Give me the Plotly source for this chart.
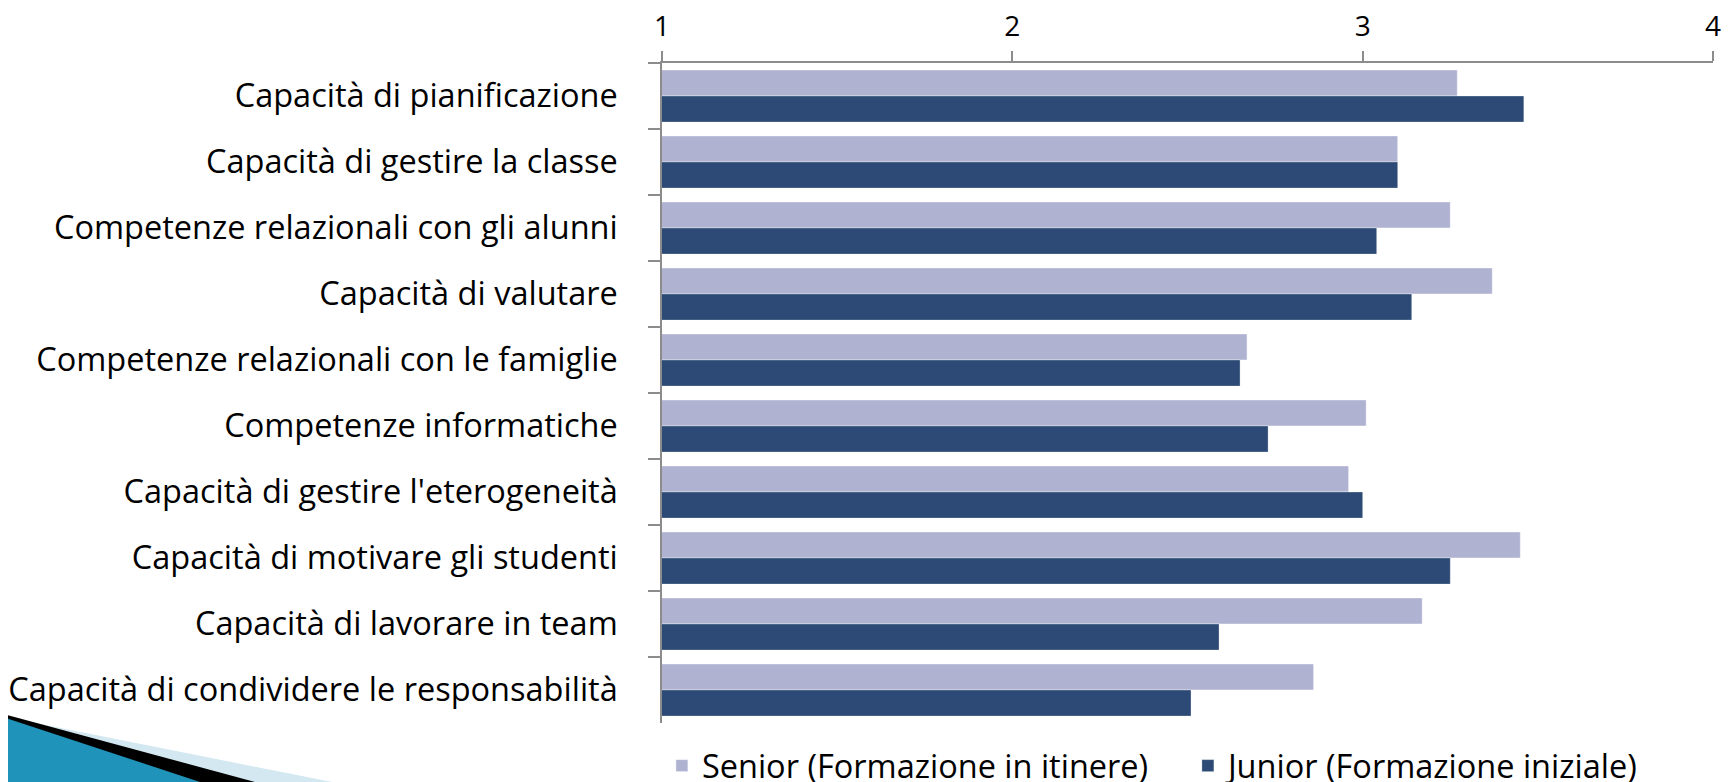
import plotly.graph_objects as go

categories = [
    "Capacità di pianificazione",
    "Capacità di gestire la classe",
    "Competenze relazionali con gli alunni",
    "Capacità di valutare",
    "Competenze relazionali con le famiglie",
    "Competenze informatiche",
    "Capacità di gestire l'eterogeneità",
    "Capacità di motivare gli studenti",
    "Capacità di lavorare in team",
    "Capacità di condividere le responsabilità",
]
senior = [3.27, 3.10, 3.25, 3.37, 2.67, 3.01, 2.96, 3.45, 3.17, 2.86]
junior = [3.46, 3.10, 3.04, 3.14, 2.65, 2.73, 3.00, 3.25, 2.59, 2.51]
senior_name = "Senior (Formazione in itinere)"
junior_name = "Junior (Formazione iniziale)"
x_ticks = [1, 2, 3, 4]

# the page body has an 8px margin, so the figure is offset inside the window
OFF = 8
WIN_W, WIN_H = 1733, 782
W, H = WIN_W - OFF, WIN_H - OFF
# plot frame in window pixels
PL, PT, PR, PB = 662, 63, 1713, 723
L, T = PL - OFF, PT - OFF
R, B = W - (PR - OFF), H - (PB - OFF)
pw, ph = W - L - R, H - T - B

def px(xw):
    return (xw - OFF - L) / pw

def py(yw):
    return (H - B - (yw - OFF)) / ph

FONT = "Open Sans"
FS = 32.5
fig = go.Figure()
fig.add_trace(go.Bar(y=categories, x=senior, name=senior_name, orientation="h",
                     marker=dict(color="#AFB2D1", line=dict(color="rgba(255,255,255,0.45)", width=1))))
fig.add_trace(go.Bar(y=categories, x=junior, name=junior_name, orientation="h",
                     marker=dict(color="#2C4A75", line=dict(color="rgba(255,255,255,0.3)", width=1))))

# decorative wedge in bottom-left corner (window pixel coordinates)
def poly(pts):
    return "M " + " L ".join(f"{px(a):.5f},{py(b):.5f}" for a, b in pts) + " Z"

shapes = [
    dict(type="path", xref="paper", yref="paper", path=poly([(0, 716), (332, 782), (0, 782)]),
         fillcolor="#D3E8F0", line=dict(width=0), layer="above"),
    dict(type="path", xref="paper", yref="paper", path=poly([(0, 713), (255, 782), (0, 782)]),
         fillcolor="#000000", line=dict(width=0), layer="above"),
    dict(type="path", xref="paper", yref="paper", path=poly([(0, 716), (200, 782), (0, 782)]),
         fillcolor="#2093BA", line=dict(width=0), layer="above"),
]

fig.update_layout(
    width=W, height=H,
    margin=dict(l=L, r=R, t=T, b=B, pad=0, autoexpand=False),
    paper_bgcolor="white", plot_bgcolor="white",
    font=dict(family=FONT, size=FS, color="#000000"),
    barmode="group", bargap=0.21, bargroupgap=0,
    showlegend=True,
    legend=dict(orientation="h", x=-0.0001, xanchor="left", y=py(766), yanchor="middle",
                font=dict(family=FONT, size=FS, color="#000000"), bgcolor="rgba(0,0,0,0)",
                traceorder="normal", entrywidth=481, entrywidthmode="pixels"),
    shapes=shapes,
)
fig.update_xaxes(side="top", range=[1, 4], tickvals=x_ticks, ticktext=[str(v) for v in x_ticks],
                 automargin=False,
                 showgrid=False, zeroline=False, showline=True, linecolor="#8C8C8C", linewidth=1.5,
                 ticks="outside", ticklen=10, tickwidth=1.5, tickcolor="#8C8C8C",
                 ticklabelstandoff=4, tickfont=dict(family=FONT, size=28, color="#000000"))
fig.update_yaxes(autorange="reversed", showgrid=False, zeroline=False, showline=True,
                 automargin=False,
                 linecolor="#8C8C8C", linewidth=1.5, ticks="outside", ticklen=12, tickwidth=1.5,
                 tickcolor="#8C8C8C", tickson="boundaries", ticklabelstandoff=36,
                 tickfont=dict(family=FONT, size=FS, color="#000000"))

fig.write_html("out.html")
